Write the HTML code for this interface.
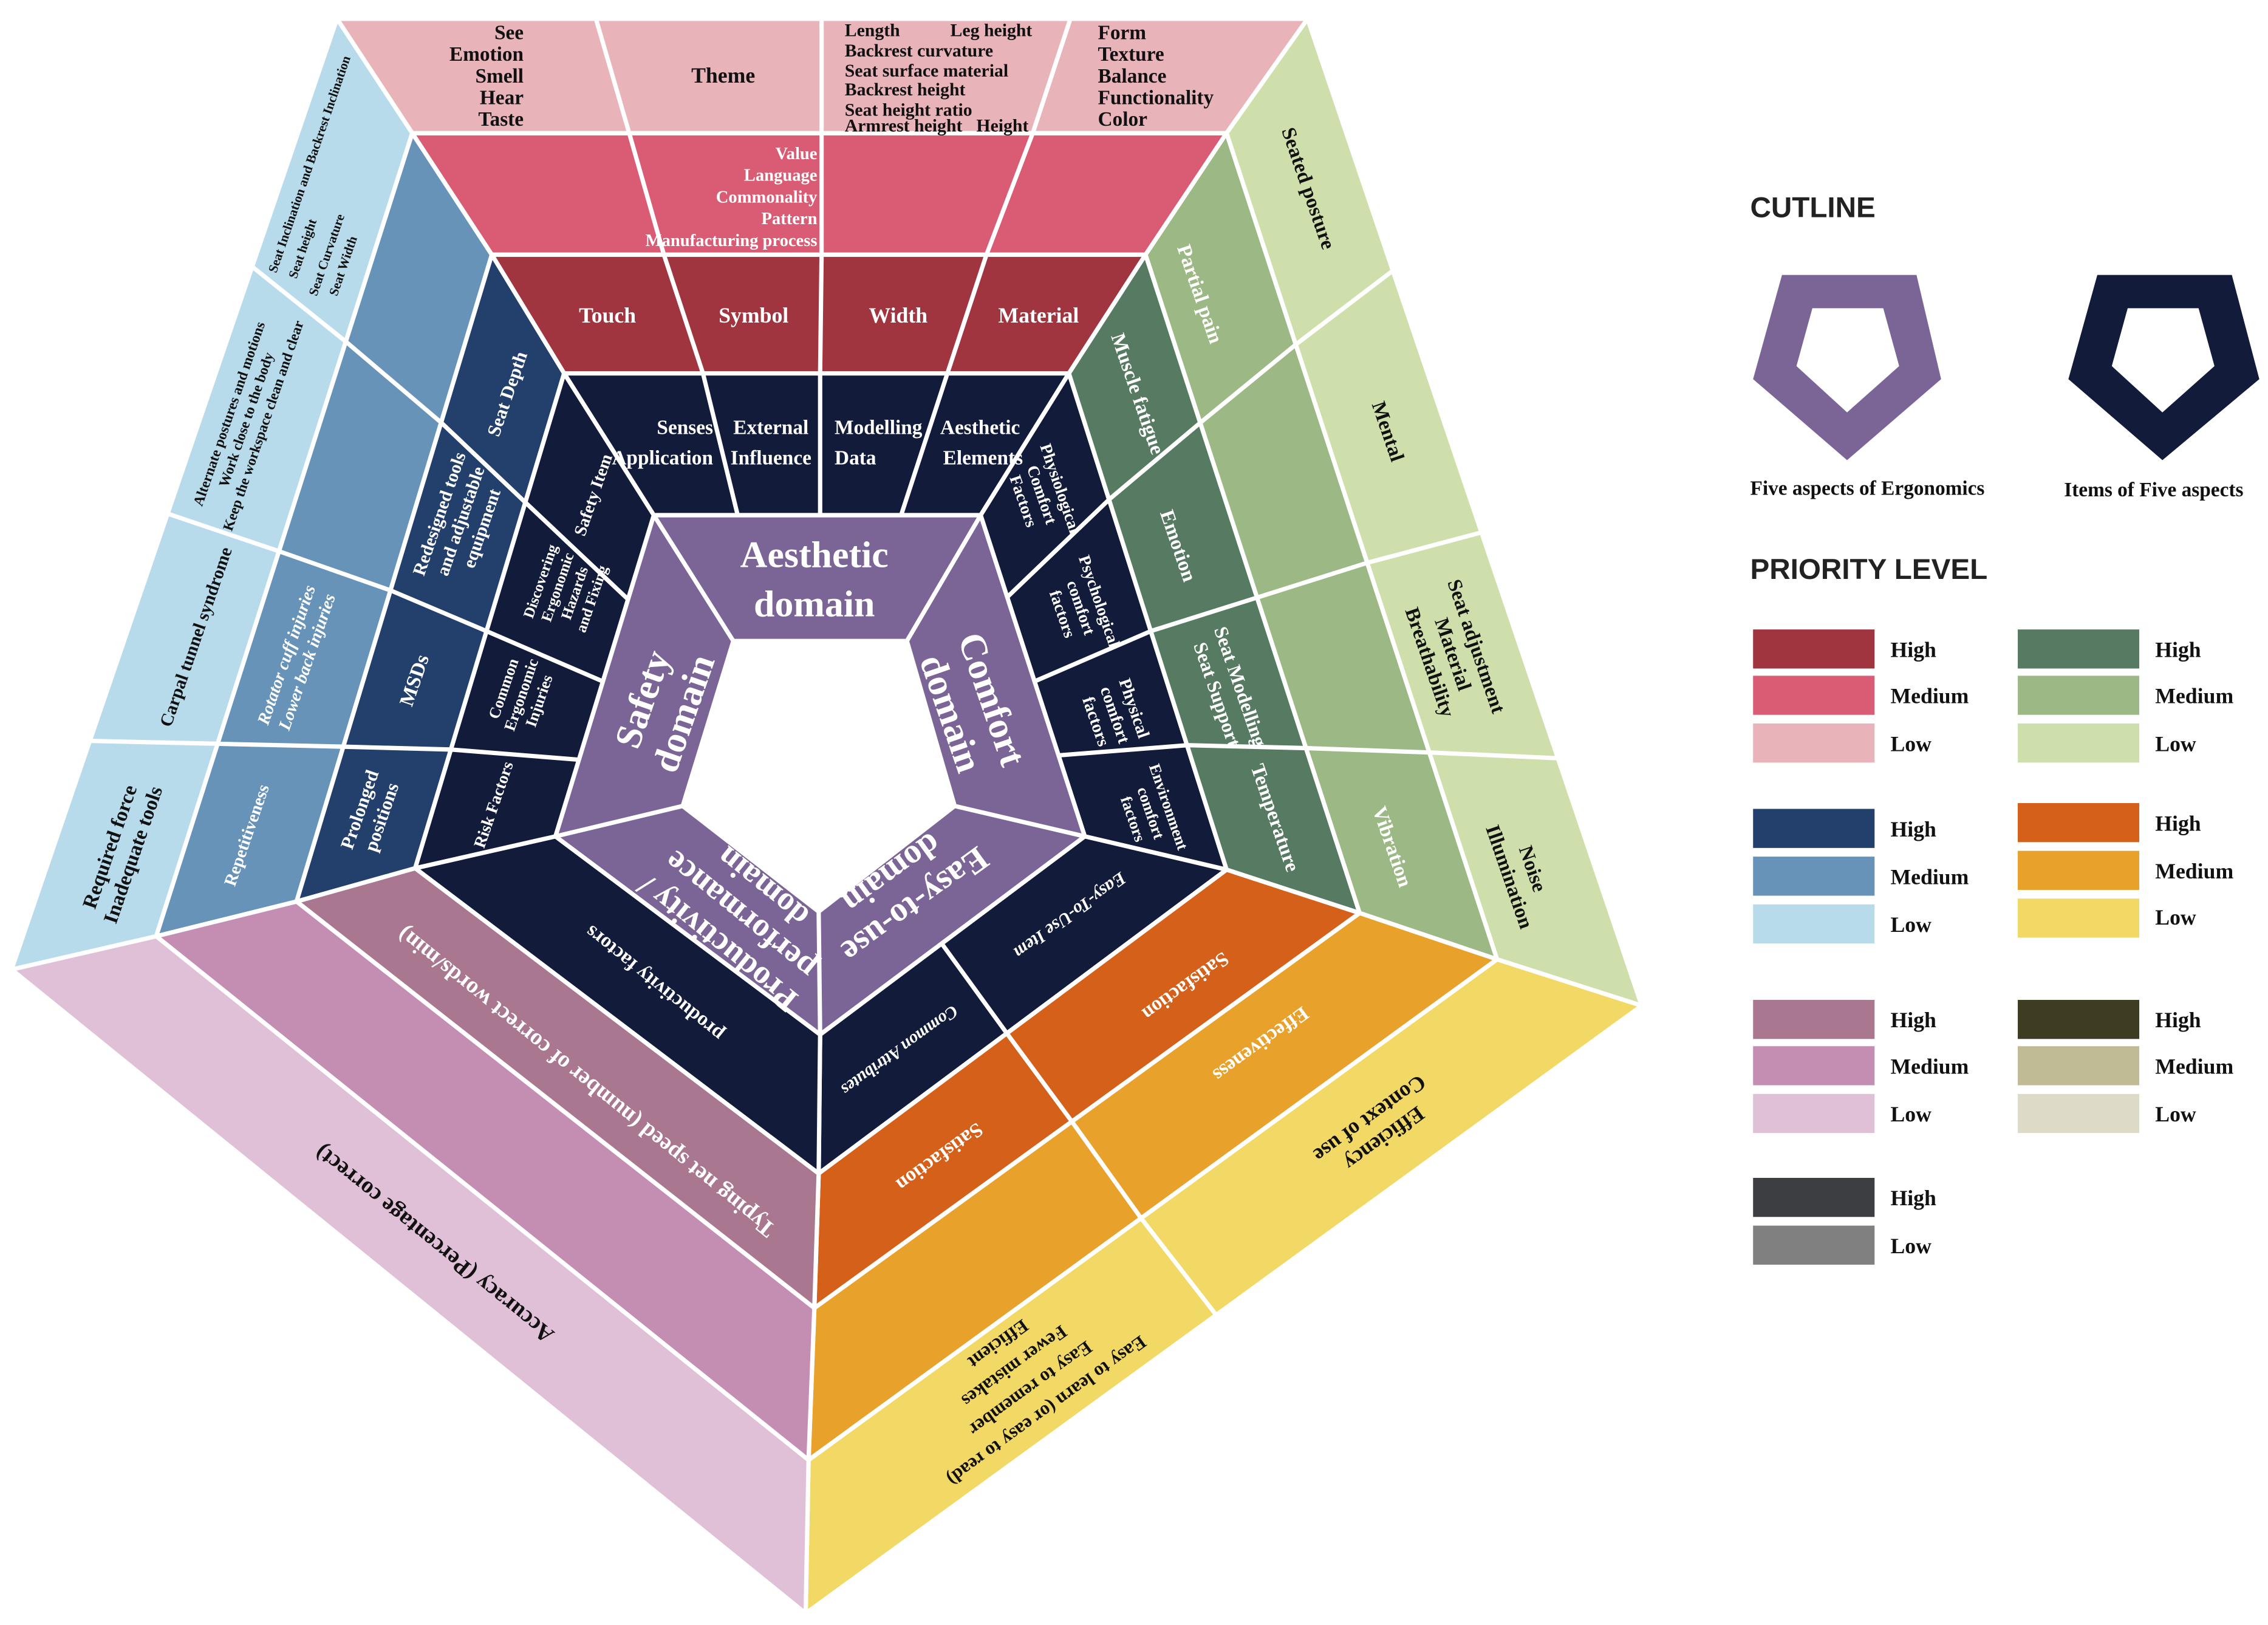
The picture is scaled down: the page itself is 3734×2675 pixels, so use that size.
<!DOCTYPE html>
<html><head><meta charset="utf-8">
<style>
html,body{margin:0;padding:0;background:#fff;}
svg{display:block;}
text{font-family:"Liberation Serif",serif;font-weight:bold;}
.w{fill:#fff}.k{fill:#111}
.s{font-family:"Liberation Sans",sans-serif;}
</style></head><body>
<svg width="3734" height="2675" viewBox="0 0 1568 1123" preserveAspectRatio="none" xmlns="http://www.w3.org/2000/svg">
<rect width="1568" height="1123" fill="#fff"/>
<g stroke="#fff" stroke-width="3" stroke-linejoin="round">
<polygon points="452,356 678,356 750,578 567,715 384,578" fill="#7b6496"/>
<polygon points="507,443 627,443 660,557 566,630 472,557" fill="#fff"/>
<polygon points="452,356 678,356 739,258 390,258" fill="#121b3a"/>
<polygon points="678,356 750,578 848,601 739,258" fill="#121b3a"/>
<polygon points="750,578 567,715 566,811 848,601" fill="#121b3a"/>
<polygon points="567,715 384,578 287,600 566,811" fill="#121b3a"/>
<polygon points="384,578 452,356 390,258 287,600" fill="#121b3a"/>
<polygon points="390,258 739,258 792,176 340,176" fill="#a1353f"/>
<polygon points="739,258 848,601 940,631 792,176" fill="#567a62"/>
<polygon points="848,601 566,811 563,904 940,631" fill="#d4601a"/>
<polygon points="566,811 287,600 205,623 563,904" fill="#a9778f"/>
<polygon points="287,600 390,258 340,176 205,623" fill="#233f6b"/>
<polygon points="340,176 792,176 848,92 285,92" fill="#d95c74"/>
<polygon points="792,176 940,631 1035,663 848,92" fill="#9cb985"/>
<polygon points="940,631 563,904 559,1009 1035,663" fill="#e8a22b"/>
<polygon points="563,904 205,623 108,647 559,1009" fill="#c48db2"/>
<polygon points="205,623 340,176 285,92 108,647" fill="#6793b8"/>
<polygon points="285,92 848,92 904,13 233,13" fill="#e8b4ba"/>
<polygon points="848,92 1035,663 1135,695 904,13" fill="#cfdfab"/>
<polygon points="1035,663 559,1009 557,1115 1135,695" fill="#f2d966"/>
<polygon points="559,1009 108,647 8,670 557,1115" fill="#dfc0d6"/>
<polygon points="108,647 285,92 233,13 8,670" fill="#b7dbeb"/>
<g fill="none">
<line x1="507" y1="443" x2="452" y2="356"/>
<line x1="627" y1="443" x2="678" y2="356"/>
<line x1="660" y1="557" x2="750" y2="578"/>
<line x1="566" y1="630" x2="567" y2="715"/>
<line x1="472" y1="557" x2="384" y2="578"/>
<polyline points="510,356 486,258 459,176 435,92 412,13"/>
<polyline points="567,356 567,258 568,176 568,92 568,13"/>
<polyline points="623,356 655,258 682,176 714,92 740,13"/>
<polyline points="400,525 312,518 237,516 150,514 62,512"/>
<polyline points="417,471 336,436 270,408 193,381 116,355"/>
<polyline points="434,414 363,347 305,292 239,236 174,184"/>
<polyline points="696,413 767,345 830,292 896,238 963,187"/>
<polyline points="715,471 796,436 869,413 945,389 1024,368"/>
<polyline points="732,522 821,515 903,517 988,520 1077,524"/>
<polyline points="651,652 696,714 741,775 789,842 841,909"/>
</g>
</g>

<text class="w" x="563" y="392" font-size="26" text-anchor="middle">Aesthetic</text>
<text class="w" x="563" y="426" font-size="26" text-anchor="middle">domain</text>
<g class="w" font-size="14">
<text x="493" y="300" text-anchor="end">Senses</text>
<text x="493" y="321" text-anchor="end">Application</text>
<text x="533" y="300" text-anchor="middle">External</text>
<text x="533" y="321" text-anchor="middle">Influence</text>
<text x="577" y="300">Modelling</text>
<text x="577" y="321">Data</text>
<text x="650" y="300">Aesthetic</text>
<text x="652" y="321">Elements</text>
</g>
<g class="w" font-size="15" text-anchor="middle">
<text x="420" y="223">Touch</text>
<text x="521" y="223">Symbol</text>
<text x="621" y="223">Width</text>
<text x="718" y="223">Material</text>
</g>
<g class="w" font-size="12" text-anchor="end">
<text x="565" y="110">Value</text>
<text x="565" y="125">Language</text>
<text x="565" y="140">Commonality</text>
<text x="565" y="155">Pattern</text>
<text x="565" y="170">Manufacturing process</text>
</g>
<g class="k" font-size="14">
<text x="362" y="27" text-anchor="end">See</text>
<text x="362" y="42" text-anchor="end">Emotion</text>
<text x="362" y="57" text-anchor="end">Smell</text>
<text x="362" y="72" text-anchor="end">Hear</text>
<text x="362" y="87" text-anchor="end">Taste</text>
<text x="500" y="57" text-anchor="middle" font-size="15">Theme</text>
<text x="759" y="27">Form</text>
<text x="759" y="42">Texture</text>
<text x="759" y="57">Balance</text>
<text x="759" y="72">Functionality</text>
<text x="759" y="87">Color</text>
</g>
<g class="k" font-size="12.5">
<text x="584" y="25">Length</text><text x="657" y="25">Leg height</text>
<text x="584" y="39">Backrest curvature</text>
<text x="584" y="53">Seat surface material</text>
<text x="584" y="66">Backrest height</text>
<text x="584" y="80">Seat height ratio</text>
<text x="584" y="91">Armrest height</text><text x="675" y="91">Height</text>
</g>

<g text-anchor="middle">
<text class="w" font-size="26" transform="translate(458,488) rotate(-71)"><tspan x="0" dy="-6">Safety</tspan><tspan x="0" dy="30">domain</tspan></text>
<text class="w" font-size="11.5" transform="translate(341,556) rotate(-71)"><tspan x="0" dy="4">Risk Factors</tspan></text>
<text class="w" font-size="11" transform="translate(360,480) rotate(-71)"><tspan x="0" dy="-9">Common</tspan><tspan x="0" dy="13">Ergonomic</tspan><tspan x="0" dy="13">Injuries</tspan></text>
<text class="w" font-size="10.5" transform="translate(392,408) rotate(-71)"><tspan x="0" dy="-16">Discovering</tspan><tspan x="0" dy="12.5">Ergonomic</tspan><tspan x="0" dy="12.5">Hazards</tspan><tspan x="0" dy="12.5">and Fixing</tspan></text>
<text class="w" font-size="12" transform="translate(410,342) rotate(-71)"><tspan x="0" dy="4">Safety Item</tspan></text>
<text class="w" font-size="13" transform="translate(256,562) rotate(-71)"><tspan x="0" dy="-3.5">Prolonged</tspan><tspan x="0" dy="16">positions</tspan></text>
<text class="w" font-size="14" transform="translate(286,470) rotate(-71)"><tspan x="0" dy="5">MSDs</tspan></text>
<text class="w" font-size="12.5" transform="translate(318,360) rotate(-71)"><tspan x="0" dy="-11">Redesigned tools</tspan><tspan x="0" dy="15.5">and adjustable</tspan><tspan x="0" dy="15.5">equipment</tspan></text>
<text class="w" font-size="13" transform="translate(350,272) rotate(-71)"><tspan x="0" dy="5">Seat Depth</tspan></text>
<text class="w" font-size="12" transform="translate(170,577) rotate(-71)"><tspan x="0" dy="4.5">Repetitiveness</tspan></text>
<text class="w" font-size="12" font-style="italic" transform="translate(205,455) rotate(-71)"><tspan x="0" dy="-3.5">Rotator cuff injuries</tspan><tspan x="0" dy="15">Lower back injuries</tspan></text>
<text class="k" font-size="14" transform="translate(84,588) rotate(-71)"><tspan x="0" dy="-4">Required force</tspan><tspan x="0" dy="17">Inadequate tools</tspan></text>
<text class="k" font-size="12.5" transform="translate(135,440) rotate(-71)"><tspan x="0" dy="4.5">Carpal tunnel syndrome</tspan></text>
<text class="k" font-size="10" transform="translate(170,290) rotate(-71)"><tspan x="0" dy="-9">Alternate postures and motions</tspan><tspan x="0" dy="12.5">Work close to the body</tspan><tspan x="0" dy="12.5">Keep the workspace clean and clear</tspan></text>
</g>
<g class="k" font-size="9">
<text transform="translate(191,189) rotate(-71)">Seat Inclination and Backrest Inclination</text>
<text transform="translate(205,193) rotate(-71)">Seat height</text>
<text transform="translate(219,205) rotate(-71)">Seat Curvature</text>
<text transform="translate(233,205) rotate(-71)">Seat Width</text>
</g>

<g text-anchor="middle">
<text class="w" font-size="26" transform="translate(672,488) rotate(71)"><tspan x="0" dy="-6">Comfort</tspan><tspan x="0" dy="30">domain</tspan></text>
<text class="w" font-size="11.5" transform="translate(720,342) rotate(71)"><tspan x="0" dy="-10">Physiological</tspan><tspan x="0" dy="13.5">Comfort</tspan><tspan x="0" dy="13.5">Factors</tspan></text>
<text class="w" font-size="11.5" transform="translate(747,420) rotate(71)"><tspan x="0" dy="-10">Psychological</tspan><tspan x="0" dy="13.5">comfort</tspan><tspan x="0" dy="13.5">factors</tspan></text>
<text class="w" font-size="12" transform="translate(771,494) rotate(71)"><tspan x="0" dy="-10">Physical</tspan><tspan x="0" dy="14">comfort</tspan><tspan x="0" dy="14">factors</tspan></text>
<text class="w" font-size="11" transform="translate(795,562) rotate(71)"><tspan x="0" dy="-10">Environment</tspan><tspan x="0" dy="13">comfort</tspan><tspan x="0" dy="13">factors</tspan></text>
<text class="w" font-size="14" transform="translate(787,272) rotate(71)"><tspan x="0" dy="5">Muscle fatigue</tspan></text>
<text class="w" font-size="14" transform="translate(815,377) rotate(71)"><tspan x="0" dy="5">Emotion</tspan></text>
<text class="w" font-size="13.5" transform="translate(850,477) rotate(71)"><tspan x="0" dy="-3.5">Seat Modelling</tspan><tspan x="0" dy="17">Seat Support</tspan></text>
<text class="w" font-size="14" transform="translate(882,565) rotate(71)"><tspan x="0" dy="5">Temperature</tspan></text>
<text class="w" font-size="14" transform="translate(830,203) rotate(71)"><tspan x="0" dy="5">Partial pain</tspan></text>
<text class="w" font-size="14" transform="translate(963,585) rotate(71)"><tspan x="0" dy="5">Vibration</tspan></text>
<text class="k" font-size="14" transform="translate(905,130) rotate(71)"><tspan x="0" dy="5">Seated posture</tspan></text>
<text class="k" font-size="14" transform="translate(960,298) rotate(71)"><tspan x="0" dy="5">Mental</tspan></text>
<text class="k" font-size="14" transform="translate(1005,452) rotate(71)"><tspan x="0" dy="-12">Seat adjustment</tspan><tspan x="0" dy="17">Material</tspan><tspan x="0" dy="17">Breathability</tspan></text>
<text class="k" font-size="14" transform="translate(1052,603) rotate(71)"><tspan x="0" dy="-3.5">Noise</tspan><tspan x="0" dy="17">Illumination</tspan></text>

<text class="w" font-size="23" transform="translate(512,632) rotate(219)"><tspan x="0" dy="-18">Productivity /</tspan><tspan x="0" dy="25">performance</tspan><tspan x="0" dy="25">domain</tspan></text>
<text class="w" font-size="14" transform="translate(452,680) rotate(219)"><tspan x="0" dy="5">productivity factors</tspan></text>
<text class="w" font-size="16" transform="translate(405,748) rotate(219)"><tspan x="0" dy="5.5">Typing net speed (number of correct words/min)</tspan></text>
<text class="k" font-size="16" transform="translate(300,860) rotate(219)"><tspan x="0" dy="5.5">Accuracy (Percentage correct)</tspan></text>

<text class="w" font-size="24" transform="translate(625,615) rotate(144)"><tspan x="0" dy="-5">Easy-to-use</tspan><tspan x="0" dy="27">domain</tspan></text>
<text class="w" font-size="12.5" font-style="italic" transform="translate(740,633) rotate(144)"><tspan x="0" dy="4.5">Easy-To-Use Item</tspan></text>
<text class="w" font-size="12" font-style="italic" transform="translate(622,726) rotate(144)"><tspan x="0" dy="4">Common Attributes</tspan></text>
<text class="w" font-size="14" transform="translate(820,682) rotate(144)"><tspan x="0" dy="5">Satisfaction</tspan></text>
<text class="w" font-size="14" transform="translate(650,800) rotate(144)"><tspan x="0" dy="5">Satisfaction</tspan></text>
<text class="w" font-size="14" transform="translate(872,722) rotate(144)"><tspan x="0" dy="5">Effectiveness</tspan></text>
<text class="k" font-size="15" transform="translate(952,780) rotate(144)"><tspan x="0" dy="-3.5">Efficiency</tspan><tspan x="0" dy="17">Context of use</tspan></text>
<text class="k" font-size="13" transform="translate(707,952) rotate(144)"><tspan x="0" dy="-24">Easy to learn (or easy to read)</tspan><tspan x="0" dy="19">Easy to remember</tspan><tspan x="0" dy="19">Fewer mistakes</tspan><tspan x="0" dy="19">Efficient</tspan></text>
</g>

<text class="s" x="1210" y="150" font-size="20" fill="#222">CUTLINE</text>
<path d="M1232,190 L1325,190 L1342,262 L1277,318 L1212,262 Z M1253,213 L1242,253 L1277,285 L1313,253 L1302,213 Z" fill="#7b6496" fill-rule="evenodd"/>
<path d="M1450,190 L1543,190 L1562,262 L1495,318 L1430,262 Z M1471,213 L1460,253 L1495,285 L1531,253 L1520,213 Z" fill="#121b3a" fill-rule="evenodd"/>
<text class="k" x="1210" y="342" font-size="14">Five aspects of Ergonomics</text>
<text class="k" x="1427" y="343" font-size="14">Items of Five aspects</text>
<text class="s" x="1210" y="400" font-size="20" fill="#222">PRIORITY LEVEL</text>

<g>
<rect x="1212" y="435" width="84" height="27" fill="#a1353f"/>
<rect x="1212" y="467" width="84" height="27" fill="#d95c74"/>
<rect x="1212" y="500" width="84" height="27" fill="#e8b4ba"/>
<rect x="1395" y="435" width="84" height="27" fill="#567a62"/>
<rect x="1395" y="467" width="84" height="27" fill="#9cb985"/>
<rect x="1395" y="500" width="84" height="27" fill="#cfdfab"/>
<rect x="1212" y="559" width="84" height="27" fill="#233f6b"/>
<rect x="1212" y="592" width="84" height="27" fill="#6793b8"/>
<rect x="1212" y="625" width="84" height="27" fill="#b7dbeb"/>
<rect x="1395" y="555" width="84" height="27" fill="#d4601a"/>
<rect x="1395" y="588" width="84" height="27" fill="#e8a22b"/>
<rect x="1395" y="621" width="84" height="27" fill="#f2d966"/>
<rect x="1212" y="691" width="84" height="27" fill="#a9778f"/>
<rect x="1212" y="723" width="84" height="27" fill="#c48db2"/>
<rect x="1212" y="756" width="84" height="27" fill="#dfc0d6"/>
<rect x="1395" y="691" width="84" height="27" fill="#3e3d22"/>
<rect x="1395" y="723" width="84" height="27" fill="#c0bb95"/>
<rect x="1395" y="756" width="84" height="27" fill="#dddbc8"/>
<rect x="1212" y="814" width="84" height="27" fill="#3c3e42"/>
<rect x="1212" y="847" width="84" height="27" fill="#808080"/>
</g>
<g class="k" font-size="15">
<text x="1307" y="454">High</text><text x="1307" y="486">Medium</text><text x="1307" y="519">Low</text>
<text x="1490" y="454">High</text><text x="1490" y="486">Medium</text><text x="1490" y="519">Low</text>
<text x="1307" y="578">High</text><text x="1307" y="611">Medium</text><text x="1307" y="644">Low</text>
<text x="1490" y="574">High</text><text x="1490" y="607">Medium</text><text x="1490" y="639">Low</text>
<text x="1307" y="710">High</text><text x="1307" y="742">Medium</text><text x="1307" y="775">Low</text>
<text x="1490" y="710">High</text><text x="1490" y="742">Medium</text><text x="1490" y="775">Low</text>
<text x="1307" y="833">High</text><text x="1307" y="866">Low</text>
</g>
</svg>
</body></html>
